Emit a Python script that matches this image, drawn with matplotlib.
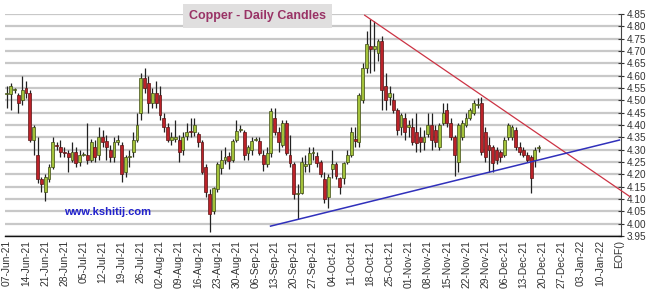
import numpy as np
import matplotlib
matplotlib.use('Agg')
import matplotlib.pyplot as plt

plt.rcParams['font.family'] = ['Liberation Sans', 'DejaVu Sans']

# daily OHLC, one entry per trading day from 07-Jun-21 to 17-Dec-21
opens = [4.525, 4.525, 4.54, 4.52, 4.50, 4.55, 4.53, 4.34, 4.28, 4.18,
         4.13, 4.18, 4.23, 4.32, 4.31, 4.29, 4.285, 4.26, 4.29, 4.25,
         4.28, 4.28, 4.26, 4.31, 4.28, 4.35, 4.335, 4.30, 4.27, 4.33,
         4.32, 4.21, 4.27, 4.29, 4.34, 4.45, 4.59, 4.57, 4.49, 4.53,
         4.52, 4.43, 4.39, 4.34, 4.345, 4.34, 4.30, 4.355, 4.375, 4.37,
         4.365, 4.33, 4.23, 4.12, 4.05, 4.14, 4.225, 4.26, 4.275, 4.26,
         4.34, 4.38, 4.37, 4.285, 4.30, 4.34, 4.335, 4.28, 4.24, 4.285,
         4.43, 4.37, 4.32, 4.41, 4.28, 4.24, 4.12, 4.125, 4.235, 4.24,
         4.285, 4.275, 4.25, 4.18, 4.11, 4.22, 4.24, 4.185, 4.185, 4.25,
         4.28, 4.345, 4.33, 4.50, 4.63, 4.72, 4.71, 4.69, 4.74, 4.56,
         4.515, 4.50, 4.46, 4.39, 4.43, 4.39, 4.39, 4.37, 4.35, 4.33,
         4.365, 4.40, 4.38, 4.31, 4.41, 4.46, 4.41, 4.35, 4.25, 4.35,
         4.40, 4.43, 4.45, 4.48, 4.49, 4.37, 4.32, 4.31, 4.30, 4.29,
         4.28, 4.35, 4.35, 4.38, 4.31, 4.30, 4.28, 4.27, 4.26, 4.305]
highs = [4.56, 4.57, 4.55, 4.53, 4.60, 4.58, 4.54, 4.40, 4.35, 4.19,
         4.20, 4.24, 4.35, 4.33, 4.34, 4.31, 4.30, 4.33, 4.31, 4.30,
         4.29, 4.41, 4.345, 4.34, 4.39, 4.38, 4.36, 4.32, 4.35, 4.36,
         4.33, 4.28, 4.30, 4.37, 4.45, 4.61, 4.63, 4.60, 4.55, 4.58,
         4.56, 4.45, 4.41, 4.37, 4.42, 4.36, 4.37, 4.41, 4.43, 4.43,
         4.37, 4.34, 4.24, 4.14, 4.15, 4.25, 4.30, 4.31, 4.29, 4.345,
         4.42, 4.40, 4.38, 4.32, 4.35, 4.35, 4.35, 4.30, 4.31, 4.47,
         4.47, 4.39, 4.42, 4.42, 4.36, 4.25, 4.16, 4.27, 4.28, 4.31,
         4.31, 4.29, 4.26, 4.21, 4.20, 4.30, 4.25, 4.19, 4.25, 4.30,
         4.39, 4.39, 4.53, 4.65, 4.78, 4.83, 4.82, 4.75, 4.76, 4.61,
         4.56, 4.53, 4.47, 4.45, 4.45, 4.42, 4.43, 4.45, 4.39, 4.38,
         4.45, 4.45, 4.40, 4.41, 4.49, 4.49, 4.43, 4.36, 4.41, 4.42,
         4.45, 4.47, 4.50, 4.51, 4.515, 4.39, 4.35, 4.32, 4.31, 4.30,
         4.35, 4.41, 4.40, 4.39, 4.33, 4.31, 4.29, 4.28, 4.31, 4.32]
lows = [4.47, 4.46, 4.53, 4.45, 4.48, 4.51, 4.33, 4.28, 4.165, 4.13,
        4.09, 4.17, 4.22, 4.30, 4.27, 4.27, 4.21, 4.25, 4.23, 4.235,
        4.275, 4.24, 4.25, 4.25, 4.26, 4.31, 4.26, 4.25, 4.25, 4.32,
        4.17, 4.19, 4.23, 4.27, 4.33, 4.42, 4.53, 4.45, 4.47, 4.47,
        4.42, 4.37, 4.33, 4.32, 4.33, 4.25, 4.28, 4.34, 4.35, 4.355,
        4.31, 4.20, 4.11, 3.965, 4.04, 4.13, 4.20, 4.24, 4.22, 4.25,
        4.33, 4.37, 4.26, 4.26, 4.28, 4.335, 4.28, 4.215, 4.23, 4.27,
        4.36, 4.29, 4.31, 4.28, 4.23, 4.10, 4.02, 4.12, 4.21, 4.21,
        4.26, 4.23, 4.19, 4.085, 4.065, 4.185, 4.18, 4.12, 4.16, 4.24,
        4.27, 4.31, 4.31, 4.49, 4.61, 4.61, 4.62, 4.66, 4.46, 4.46,
        4.48, 4.45, 4.36, 4.36, 4.34, 4.35, 4.32, 4.29, 4.29, 4.30,
        4.35, 4.30, 4.31, 4.30, 4.40, 4.39, 4.34, 4.195, 4.21, 4.34,
        4.39, 4.42, 4.44, 4.47, 4.28, 4.25, 4.21, 4.21, 4.24, 4.25,
        4.27, 4.34, 4.34, 4.30, 4.28, 4.27, 4.25, 4.125, 4.23, 4.29]
closes = [4.53, 4.56, 4.545, 4.49, 4.54, 4.53, 4.34, 4.39, 4.18, 4.16,
          4.19, 4.23, 4.33, 4.315, 4.29, 4.285, 4.27, 4.29, 4.245, 4.28,
          4.283, 4.26, 4.33, 4.27, 4.35, 4.33, 4.31, 4.27, 4.33, 4.34,
          4.20, 4.27, 4.275, 4.34, 4.40, 4.59, 4.55, 4.49, 4.53, 4.49,
          4.44, 4.39, 4.34, 4.35, 4.35, 4.29, 4.35, 4.37, 4.37, 4.40,
          4.33, 4.21, 4.13, 4.04, 4.145, 4.24, 4.26, 4.27, 4.255, 4.335,
          4.375, 4.385, 4.28, 4.31, 4.335, 4.345, 4.285, 4.24, 4.285, 4.455,
          4.37, 4.33, 4.41, 4.285, 4.245, 4.12, 4.125, 4.25, 4.24, 4.285,
          4.29, 4.245, 4.20, 4.10, 4.19, 4.24, 4.195, 4.15, 4.245, 4.28,
          4.37, 4.335, 4.52, 4.63, 4.73, 4.71, 4.72, 4.74, 4.54, 4.50,
          4.53, 4.46, 4.38, 4.44, 4.37, 4.40, 4.33, 4.325, 4.33, 4.35,
          4.40, 4.34, 4.33, 4.40, 4.45, 4.41, 4.35, 4.28, 4.40, 4.41,
          4.43, 4.46, 4.49, 4.485, 4.29, 4.27, 4.30, 4.245, 4.26, 4.27,
          4.34, 4.40, 4.39, 4.31, 4.29, 4.28, 4.26, 4.185, 4.30, 4.31]

# one label every 5 slots (Mondays), axis runs on to the EOF() slot
week_labels = ['07-Jun-21', '14-Jun-21', '21-Jun-21', '28-Jun-21', '05-Jul-21',
               '12-Jul-21', '19-Jul-21', '26-Jul-21', '02-Aug-21', '09-Aug-21',
               '16-Aug-21', '23-Aug-21', '30-Aug-21', '06-Sep-21', '13-Sep-21',
               '20-Sep-21', '27-Sep-21', '04-Oct-21', '11-Oct-21', '18-Oct-21',
               '25-Oct-21', '01-Nov-21', '08-Nov-21', '15-Nov-21', '22-Nov-21',
               '29-Nov-21', '06-Dec-21', '13-Dec-21', '20-Dec-21', '27-Dec-21',
               '03-Jan-22', '10-Jan-22', 'EOF()']
n_slots = 161

# trend lines: (slot, price) anchors
resistance_x = [93.5, 162.8]
resistance_y = [4.845, 4.11]
support_x = [68.9, 160.1]
support_y = [3.99, 4.339]

fig = plt.figure(figsize=(6.5, 2.92), dpi=100)
ax = fig.add_axes([5/650, 56/292, 616/650, 222/292])

o = np.array(opens)
h = np.array(highs)
l = np.array(lows)
c = np.array(closes)
x = np.arange(len(c))
up = c >= o
lo = np.minimum(o, c)
ht = np.maximum(np.abs(c - o), 0.004)

ax.vlines(x, l, h, color='#222222', lw=0.9, zorder=3)
ax.bar(x[up], ht[up], bottom=lo[up], width=0.75, color='#a3c23a',
       edgecolor='#3d4a14', lw=0.5, zorder=4)
ax.bar(x[~up], ht[~up], bottom=lo[~up], width=0.75, color='#bb2229',
       edgecolor='#5a1414', lw=0.5, zorder=4)

ax.plot(resistance_x, resistance_y, color='#cc3344', lw=0.9, zorder=5, clip_on=False)
ax.plot(support_x, support_y, color='#3030bb', lw=1.1, zorder=5)

ax.set_xlim(-0.5, n_slots - 0.5)
ax.set_ylim(3.95, 4.85)
ax.set_yticks(np.arange(3.95, 4.851, 0.05))
ax.set_yticklabels(['%.2f' % v for v in np.arange(3.95, 4.851, 0.05)])
ax.yaxis.tick_right()
ax.grid(axis='y', color='#c8c8c8', lw=1.6)
ax.set_axisbelow(True)

ax.set_xticks(np.arange(0, n_slots, 5))
ax.set_xticklabels(week_labels, rotation=90, fontsize=7.4, color='#333333')
ax.tick_params(axis='x', length=0, pad=3)
ax.tick_params(axis='y', direction='inout', length=4, labelsize=7.2,
               pad=2, colors='#333333')

for s in ['left', 'top']:
    ax.spines[s].set_visible(False)
ax.spines['right'].set_color('#444444')
ax.spines['bottom'].set_color('#111111')
ax.spines['bottom'].set_linewidth(1.0)

fig.text(0.396, 0.945, 'Copper - Daily Candles', ha='center', va='center',
         fontsize=9, fontweight='bold', color='#993366',
         bbox=dict(facecolor='#e0dfdf', edgecolor='none', boxstyle='square,pad=0.45'))
ax.text(0.165, 0.274, 'www.kshitij.com', transform=fig.transFigure, ha='center',
        va='center', fontsize=8, fontweight='bold', color='#2222cc')

fig.savefig('out.png', dpi=100)
